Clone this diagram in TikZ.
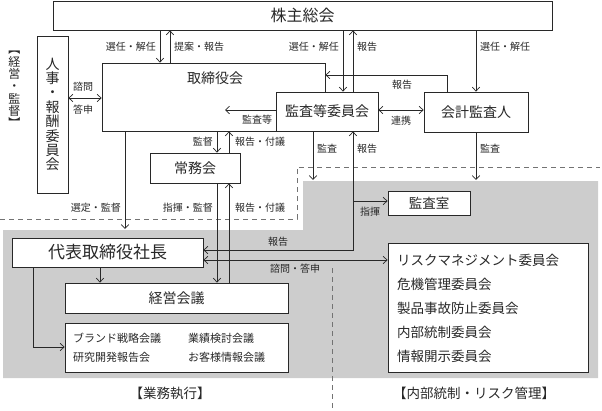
\documentclass[tikz,border=0pt]{standalone}
\usepackage{fontspec}
\setmainfont{Noto Sans CJK JP}
\usetikzlibrary{arrows.meta}
\definecolor{regiongray}{RGB}{205,205,205}
\definecolor{linecol}{RGB}{40,40,40}
\begin{document}
\begin{tikzpicture}[x=1pt,y=-1pt,
  >={Straight Barb[length=4pt,width=7.5pt]},
  box/.style={draw=linecol, line width=0.8pt, fill=white, inner sep=0pt, text=linecol},
  conn/.style={draw=linecol, line width=0.7pt},
  lbl/.style={font=\fontsize{10}{11}\selectfont, inner sep=0pt, text=linecol},
  big/.style={font=\fontsize{14}{14}\selectfont},
  listtxt/.style={font=\fontsize{11}{11}\selectfont, inner sep=0pt, anchor=west, text=linecol},
  comtxt/.style={font=\fontsize{13.5}{13.5}\selectfont, inner sep=0pt, anchor=west, text=linecol},
  dashline/.style={draw=black!55, line width=1pt, dash pattern=on 5pt off 4pt},
]
\useasboundingbox (0,0) rectangle (602,410);

% regions
\fill[regiongray] (3,230) -- (303,230) -- (303,181) -- (598,181) -- (598,378) -- (3,378) -- cycle;
\draw[dashline] (0,219) -- (297,219) -- (297,167) -- (600,167);
\draw[dashline] (332,268) -- (332,410);

% boxes
\node[box, minimum width=499pt, minimum height=29pt, font=\fontsize{16}{16}\selectfont] (gm) at (302.5,15.5) {株主総会};
\node[box, minimum width=31pt, minimum height=157pt] (jinji) at (52.5,114.5) {};
\node[align=center, inner sep=0pt, font=\fontsize{14}{14.4}\selectfont, text=linecol] (jinjilbl) at (52.5,114.5) {人\\事\\・\\報\\酬\\委\\員\\会};
\node[box, minimum width=223pt, minimum height=68pt] (board) at (213.5,97) {};
\node[big, inner sep=0pt, text=linecol] (boardlbl) at (215,78) {取締役会};
\node[box, big, minimum width=102pt, minimum height=39pt] (audit) at (327,111.5) {監査等委員会};
\node[box, big, minimum width=104pt, minimum height=40pt] (auditor) at (476,112) {会計監査人};
\node[box, big, minimum width=90pt, minimum height=30pt] (jomu) at (195,168) {常務会};
\node[box, minimum width=191pt, minimum height=29pt, font=\fontsize{17}{17}\selectfont] (ceo) at (107.5,252.5) {代表取締役社長};
\node[box, big, minimum width=223pt, minimum height=30pt] (keiei) at (176.5,298) {経営会議};
\node[box, minimum width=223pt, minimum height=49pt] (meetings) at (176.5,347.5) {};
\node[box, font=\fontsize{13.5}{13.5}\selectfont, minimum width=82pt, minimum height=24pt] (kansashitsu) at (429,203) {監査室};
\node[box, minimum width=200pt, minimum height=129pt] (committees) at (488,307.5) {};

% texts in list boxes
\node[listtxt] (m1) at (73,338) {ブランド戦略会議};
\node[listtxt] (m2) at (188,338) {業績検討会議};
\node[listtxt] (m3) at (73,357) {研究開発報告会};
\node[listtxt] (m4) at (188,357) {お客様情報会議};
\node[comtxt] (c1) at (397,260) {リスクマネジメント委員会};
\node[comtxt] (c2) at (397,284) {危機管理委員会};
\node[comtxt] (c3) at (397,308) {製品事故防止委員会};
\node[comtxt] (c4) at (397,332) {内部統制委員会};
\node[comtxt] (c5) at (397,356) {情報開示委員会};

% side and bottom titles
\node[align=center, inner sep=0pt, font=\fontsize{12}{12.3}\selectfont, text=linecol] (keieilbl) at (14.5,89.5) {︻\\経\\営\\・\\監\\督\\︼};
\node[inner sep=0pt, font=\fontsize{13.5}{13.5}\selectfont, text=linecol] (gyomu) at (170,393) {【業務執行】};
\node[inner sep=0pt, font=\fontsize{13.5}{13.5}\selectfont, text=linecol] (naibu) at (474,393) {【内部統制・リスク管理】};

% free ends
\coordinate (opTop) at (125,229);
\coordinate (ctlTop) at (313,180);
\coordinate (ctlTop2) at (476,180);
\coordinate (auditTgt) at (225,110);
\coordinate (shiki) at (353,201);

% connectors
\draw[conn,->] (gm.south -| 160,0) -- (board.north -| 160,0);
\draw[conn,->] (board.north -| 170,0) -- (gm.south -| 170,0);
\draw[conn,->] (gm.south -| 343,0) -- (audit.north -| 343,0);
\draw[conn,->] (audit.north -| 353,0) -- (gm.south -| 353,0);
\draw[conn,->] (gm.south -| auditor.north) -- (auditor.north);
\draw[conn,->] (auditor.north -| 447,0) |- (board.east |- 0,75);
\draw[conn,<->] (audit.east |- 0,110) -- (auditor.west |- 0,110);
\draw[conn,->] (audit.west |- 0,110) -- (auditTgt);
\draw[conn,<->] (jinji.east |- 0,98) -- (board.west |- 0,98);
\draw[conn,->] (board.south -| 217,0) -- (jomu.north -| 217,0);
\draw[conn,->] (jomu.north -| 229,0) -- (board.south -| 229,0);
\draw[conn,->] (board.south -| opTop) -- (opTop);
\draw[conn,->] (audit.south -| ctlTop) -- (ctlTop);
\draw[conn,->] (auditor.south) -- (ctlTop2);
\draw[conn,<->] (ceo.east |- 0,250) -| (audit.south -| 353,0);
\draw[conn,->] (shiki) -- (kansashitsu.west |- shiki);
\draw[conn,<->] (ceo.east |- 0,260) -- (committees.west |- 0,260);
\draw[conn,->] (jomu.south -| 217,0) -- (keiei.north -| 217,0);
\draw[conn,->] (keiei.north -| 229,0) -- (jomu.south -| 229,0);
\draw[conn,->] (ceo.south -| 100,0) -- (keiei.north -| 100,0);
\draw[conn,->] (ceo.south -| 33,0) |- (meetings.west |- 0,347);

% connector labels
\node[lbl, anchor=east] (l1) at (156,47) {選任・解任};
\node[lbl, anchor=west] (l2) at (174,47) {提案・報告};
\node[lbl, anchor=east] (l3) at (339,47) {選任・解任};
\node[lbl, anchor=west] (l4) at (357,47) {報告};
\node[lbl, anchor=west] (l5) at (480,47) {選任・解任};
\node[lbl] (l6) at (402,85) {報告};
\node[lbl] (l7) at (401,121) {連携};
\node[lbl] (l8) at (257,120) {監査等};
\node[lbl] (l9) at (83,87) {諮問};
\node[lbl] (l10) at (83,110) {答申};
\node[lbl, anchor=east] (l11) at (213,142) {監督};
\node[lbl, anchor=west] (l12) at (235,142) {報告・付議};
\node[lbl, anchor=west] (l13) at (317,149) {監査};
\node[lbl, anchor=west] (l14) at (357,149) {報告};
\node[lbl, anchor=west] (l15) at (480,149) {監査};
\node[lbl, anchor=east] (l16) at (121,208) {選定・監督};
\node[lbl, anchor=east] (l17) at (213,208) {指揮・監督};
\node[lbl, anchor=west] (l18) at (235,208) {報告・付議};
\node[lbl] (l19) at (370,212) {指揮};
\node[lbl] (l20) at (278,242) {報告};
\node[lbl] (l21) at (295,269) {諮問・答申};
\end{tikzpicture}
\end{document}
